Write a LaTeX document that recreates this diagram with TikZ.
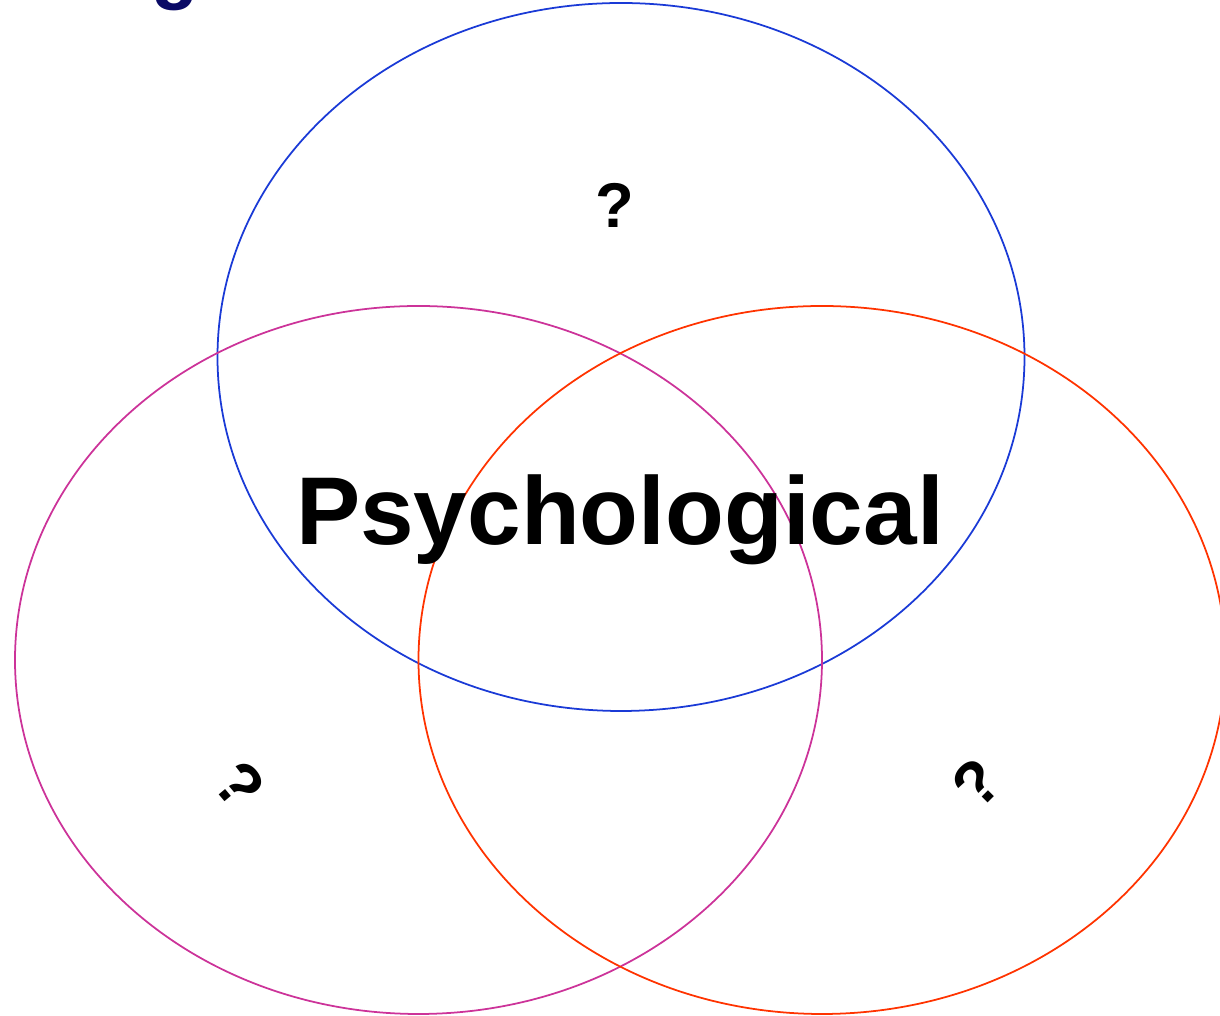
\documentclass[tikz,border=0pt]{standalone}
\usepackage{fontspec}
\setmainfont{Liberation Sans}
\usetikzlibrary{positioning}

\begin{document}
\begin{tikzpicture}[
    every node/.style={font=\bfseries},
]

% ---------------------------------------------------------------- colours
\definecolor{c1}{HTML}{1A3AD6}   % the top circle
\definecolor{c2}{HTML}{CC3399}   % the left circle
\definecolor{c3}{HTML}{FF3300}   % the right circle
\definecolor{titlecolor}{HTML}{0A0A66}

\tikzset{
    ring/.style={line width=0.5pt},
    query/.style={font=\fontsize{18}{20}\selectfont\bfseries, text=black},
}

\useasboundingbox (0, 0) rectangle (12.2, 10.16);

% ================================================================
% Three overlapping ellipses, rx 4.035, ry 3.54
%   centres: top (6.21, 6.59), left (4.185, 3.56), right (8.22, 3.56)
% ================================================================
\draw[ring, c1] (6.21, 6.59) ellipse [x radius=4.035, y radius=3.54];
\draw[ring, c2] (4.185, 3.56) ellipse [x radius=4.035, y radius=3.54];
\draw[ring, c3] (8.22, 3.56) ellipse [x radius=4.035, y radius=3.54];

% ---------------------------------------------------------------- labels
\node[query] (qtop) at (6.15, 8.11) {?};
\node[query, rotate=-50] (qleft) at (2.40, 2.31) {?};
\node[query, rotate=45] (qright) at (9.77, 2.33) {?};

\node[font=\fontsize{27.4}{30}\selectfont\bfseries, anchor=base]
    (centre) at (6.20, 4.71) {Psychological};

% the title above is cut off by the page edge
\node[font=\fontsize{22}{24}\selectfont\bfseries, text=titlecolor, anchor=base]
    (title) at (1.75, 10.21) {g};

\end{tikzpicture}
\end{document}
